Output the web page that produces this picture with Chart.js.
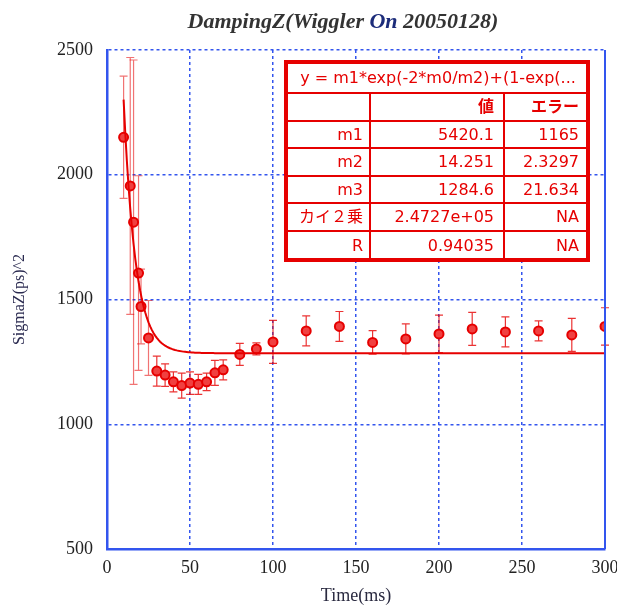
<!DOCTYPE html>
<html>
<head>
<meta charset="utf-8">
<script src="https://cdn.jsdelivr.net/npm/chart.js@4.4.0/dist/chart.umd.min.js"></script>
<style>
  html, body { margin: 0; padding: 0; background: #fff; }
  #wrap { width: 617px; height: 609px; position: relative; }
</style>
</head>
<body>
<div id="wrap"><canvas id="chart" width="617" height="609"></canvas></div>
<script>
// measured bunch length vs time after injection
const times = [10, 14, 16, 19, 20.5, 25, 30, 35, 40, 45, 50, 55, 60, 65, 70, 80, 90, 100, 120, 140, 160, 180, 200, 220, 240, 260, 280, 300];
const sigmaZ2 = [2150, 1955, 1810, 1606, 1472, 1346, 1213, 1197, 1170, 1155, 1165, 1160, 1170, 1206, 1218, 1280, 1302, 1330, 1374, 1392, 1328, 1342, 1362, 1382, 1370, 1374, 1358, 1392];
const sigmaErr = [245, 515, 650, 390, 150, 150, 60, 45, 40, 50, 45, 40, 35, 50, 40, 44, 24, 86, 60, 60, 47, 60, 75, 66, 60, 40, 66, 75];

// fit result table
const fitFormula = 'y = m1*exp(-2*m0/m2)+(1-exp(...';
const paramNames = ['m1', 'm2', 'm3'];
const paramValues = [5420.1, 14.251, 1284.6];
const paramErrors = [1165, 2.3297, 21.634];
const chiSquare = '2.4727e+05';
const fitR = 0.94035;

const xTicks = [0, 50, 100, 150, 200, 250, 300];
const yTicks = [500, 1000, 1500, 2000, 2500];

const RED = '#e60000';
const BLUE = '#3355ee';

// damping curve from the fitted parameters
const [m1, m2, m3] = paramValues;
const fitCurve = [];
for (let t = times[0]; t <= 300; t += 1) {
  const e = Math.exp(-2 * t / m2);
  fitCurve.push({ x: t, y: m1 * e + (1 - e) * m3 });
}

const points = times.map((t, i) => ({ x: t, y: sigmaZ2[i], err: sigmaErr[i] }));

const errorBars = {
  id: 'errorBars',
  beforeDatasetsDraw(chart) {
    const { ctx, scales: { x, y } } = chart;
    ctx.save();
    ctx.lineWidth = 1.2;
    points.forEach(p => {
      const px = x.getPixelForValue(p.x);
      const top = y.getPixelForValue(p.y + p.err);
      const bot = y.getPixelForValue(p.y - p.err);
      ctx.strokeStyle = p.err > 140 ? 'rgba(230,0,0,0.55)' : 'rgba(230,0,0,0.8)';
      ctx.beginPath();
      ctx.moveTo(px, top); ctx.lineTo(px, bot);
      ctx.moveTo(px - 4, top); ctx.lineTo(px + 4, top);
      ctx.moveTo(px - 4, bot); ctx.lineTo(px + 4, bot);
      ctx.stroke();
    });
    ctx.restore();
  }
};

const headerTitle = {
  id: 'headerTitle',
  afterDraw(chart) {
    const ctx = chart.ctx;
    const parts = [['DampingZ(Wiggler ', '#333'], ['On', '#1c2c7a'], [' 20050128)', '#333']];
    ctx.save();
    ctx.font = 'italic bold 22px "Liberation Serif"';
    ctx.textBaseline = 'alphabetic';
    const total = parts.reduce((w, p) => w + ctx.measureText(p[0]).width, 0);
    let cx = 343 - total / 2;
    parts.forEach(([txt, col]) => {
      ctx.fillStyle = col;
      ctx.fillText(txt, cx, 28);
      cx += ctx.measureText(txt).width;
    });
    ctx.restore();
  }
};

const frameAndTable = {
  id: 'frameAndTable',
  afterDraw(chart) {
    const { ctx, chartArea: a } = chart;
    ctx.save();
    // right edge of the plot frame
    ctx.strokeStyle = BLUE;
    ctx.lineWidth = 2;
    ctx.beginPath();
    ctx.moveTo(a.right, a.top); ctx.lineTo(a.right, a.bottom);
    ctx.stroke();

    // fit parameter box
    const left = 286, right = 588, colA = 370, colB = 504;
    const rows = [62, 93, 121, 148, 176, 203, 231, 260];
    ctx.fillStyle = '#fff';
    ctx.fillRect(left, rows[0], right - left, rows[rows.length - 1] - rows[0]);
    ctx.strokeStyle = RED;
    ctx.lineWidth = 2;
    ctx.beginPath();
    for (let i = 1; i < rows.length - 1; i++) {
      ctx.moveTo(left, rows[i]); ctx.lineTo(right, rows[i]);
    }
    ctx.moveTo(colA, rows[1]); ctx.lineTo(colA, rows[rows.length - 1]);
    ctx.moveTo(colB, rows[1]); ctx.lineTo(colB, rows[rows.length - 1]);
    ctx.stroke();
    ctx.lineWidth = 4;
    ctx.strokeRect(left, rows[0], right - left, rows[rows.length - 1] - rows[0]);

    ctx.fillStyle = RED;
    ctx.font = '16px "DejaVu Sans", "Noto Sans CJK JP"';
    ctx.textBaseline = 'middle';
    const mid = i => (rows[i] + rows[i + 1]) / 2 + 1;
    ctx.textAlign = 'center';
    ctx.fillText(fitFormula, (left + right) / 2 + 1, mid(0));

    const body = [
      ['', '値', 'エラー'],
      ...paramNames.map((n, i) => [n, String(paramValues[i]), String(paramErrors[i])]),
      ['カイ２乗', chiSquare, 'NA'],
      ['R', String(fitR), 'NA']
    ];
    ctx.textAlign = 'right';
    body.forEach((r, i) => {
      const y = mid(i + 1);
      ctx.font = (i === 0 ? 'bold ' : '') + '16px "DejaVu Sans", "Noto Sans CJK JP"';
      ctx.fillText(r[0], colA - 7, y);
      ctx.fillText(r[1], colB - 10, y);
      ctx.fillText(r[2], right - 9, y);
    });
    ctx.restore();
  }
};

const tickFont = { family: '"Liberation Serif"', size: 18 };
const plainNumber = v => String(v);

new Chart(document.getElementById('chart'), {
  type: 'scatter',
  data: {
    datasets: [
      {
        label: 'fit',
        data: fitCurve,
        showLine: true,
        borderColor: RED,
        borderWidth: 2,
        pointRadius: 0,
        fill: false
      },
      {
        label: 'SigmaZ',
        data: points,
        pointRadius: 4.5,
        pointBackgroundColor: '#f04040',
        pointBorderColor: RED,
        pointBorderWidth: 2
      }
    ]
  },
  options: {
    responsive: false,
    animation: false,
    layout: { padding: { top: 50, right: 12, left: 0, bottom: 0 } },
    plugins: {
      legend: { display: false },
      tooltip: { enabled: false }
    },
    scales: {
      x: {
        type: 'linear',
        min: 0,
        max: 300,
        afterBuildTicks: s => { s.ticks = xTicks.map(v => ({ value: v })); },
        afterFit: s => { s.height = 60; s.paddingRight = 0; s.paddingLeft = 0; },
        ticks: { font: tickFont, color: '#222', padding: 8, callback: plainNumber },
        grid: { color: BLUE, lineWidth: 1.5, drawTicks: false },
        border: { color: BLUE, width: 2.5, dash: [3, 3] },
        title: {
          display: true,
          text: 'Time(ms)',
          color: '#2a2a40',
          font: { family: '"Liberation Serif"', size: 18 },
          padding: { bottom: 2 }
        }
      },
      y: {
        min: 500,
        max: 2500,
        afterBuildTicks: s => { s.ticks = yTicks.map(v => ({ value: v })); },
        afterFit: s => { s.width = 107; s.paddingTop = 0; s.paddingBottom = 0; },
        ticks: { font: tickFont, color: '#222', padding: 14, callback: plainNumber },
        grid: { color: BLUE, lineWidth: 1.5, drawTicks: false },
        border: { color: BLUE, width: 2.5, dash: [3, 3] },
        title: {
          display: true,
          text: 'SigmaZ(ps)^2',
          color: '#2a2a50',
          font: { family: '"Liberation Serif"', size: 16 },
          padding: { top: 10 }
        }
      }
    }
  },
  plugins: [errorBars, headerTitle, frameAndTable]
});
</script>
</body>
</html>
